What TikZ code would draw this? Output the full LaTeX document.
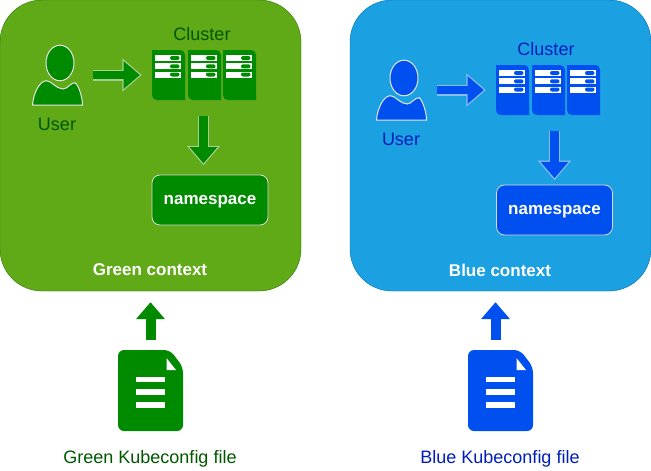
\documentclass[tikz,border=0pt]{standalone}
\usepackage{fontspec}
\setmainfont{Liberation Sans}
\usetikzlibrary{arrows.meta,positioning}
\definecolor{gfill}{HTML}{60A917}
\definecolor{gline}{HTML}{2D7600}
\definecolor{gdark}{HTML}{008A00}
\definecolor{gtext}{HTML}{005700}
\definecolor{gpale}{HTML}{A3D08F}
\definecolor{bfill}{HTML}{1BA1E2}
\definecolor{bline}{HTML}{006EAF}
\definecolor{bdark}{HTML}{0050EF}
\definecolor{btext}{HTML}{001DBC}
\definecolor{bpale}{HTML}{8CBCF8}
\tikzset{
  ctxbox/.style={minimum width=301pt,minimum height=291pt,rounded corners=42pt,inner sep=0pt},
  nsbox/.style={draw=white!85!black,line width=0.8pt,minimum width=116pt,minimum height=50pt,rounded corners=8pt,text=white,inner sep=0pt,text depth=0pt,font=\fontsize{17}{20}\selectfont\bfseries},
  lbl/.style={inner sep=0pt,font=\fontsize{18}{21}\selectfont},
  ctxlbl/.style={inner sep=0pt,text=white,font=\fontsize{17}{20}\selectfont\bfseries},
  arrowg/.style={draw=gdark,line width=8.6pt,-{Triangle[length=16.4pt,width=26.9pt,sep=1.9pt]},preaction={draw=gpale,line width=11pt,{Bar[width=11pt,line width=1.2pt]}-{Triangle[length=19.5pt,width=32pt]}}},
  arrowb/.style={draw=bdark,line width=8.6pt,-{Triangle[length=16.4pt,width=26.9pt,sep=1.9pt]},preaction={draw=bpale,line width=11pt,{Bar[width=11pt,line width=1.2pt]}-{Triangle[length=19.5pt,width=32pt]}}},
  upg/.style={draw=gdark,line width=10pt,-{Triangle[length=17pt,width=28pt]}},
  upb/.style={draw=bdark,line width=10pt,-{Triangle[length=17pt,width=28pt]}},
  person/.pic={
    \node[minimum width=51pt,minimum height=58pt,inner sep=0pt] (-box) at (0,0) {};
    \path[pic actions,draw=white!90!black,line width=1pt] (2.5,-12) ellipse (14pt and 17.8pt);
    \path[pic actions,draw=white!90!black,line width=1pt] (-25,30) .. controls (-24,18) and (-18,6) .. (-11,5.7) .. controls (-6,6) and (-1,14) .. (5.5,14) .. controls (10,14) and (13,7.7) .. (17.5,7.7) .. controls (21,10) and (25,22) .. (25,30) -- cycle;
  },
  rack/.pic={
    \node[minimum width=103pt,minimum height=50pt,inner sep=0pt] (-box) at (0,0) {};
    \foreach \dx in {-51.5,-15.5,19.5} {
      \path[pic actions] (\dx,-25) -- ++(28,0) .. controls +(3,0) and +(0,-3) .. ++(5,5) -- ++(0,45) -- ++(-28,0) .. controls +(-3,0) and +(0,3) .. ++(-5,-5) -- cycle;
      \foreach \dy in {-20,-11.7,-3.5} {
        \fill[white] (\dx+3.2,\dy) rectangle ++(25.3,6);
        \path[pic actions,rounded corners=2pt] (\dx+18,\dy+1) rectangle ++(9.5,4);
      }
    }
  },
  docfile/.pic={
    \node[minimum width=65pt,minimum height=81pt,inner sep=0pt] (-box) at (0,0) {};
    \path[pic actions,rounded corners=6pt] (-32.5,-40.5) -- (19.5,-40.5) -- (32.5,-23.5) -- (32.5,40.5) -- (-32.5,40.5) -- cycle;
    \fill[white] (16,-32.5) -- (25.5,-20.5) -- (16,-20.5) -- cycle;
    \fill[white] (-14.5,-13.5) rectangle (14.5,-8.5);
    \fill[white] (-14.5,-1.5) rectangle (14.5,4.5);
    \fill[white] (-14.5,11.5) rectangle (14.5,17.5);
  }
}
\begin{document}
\begin{tikzpicture}[x=1pt,y=-1pt]
\useasboundingbox (0,0) rectangle (651,471);
\node[ctxbox,draw=gline,fill=gfill] (ctx_g) at (150.5,145.5) {};
\node[ctxbox,draw=bline,fill=bfill] (ctx_b) at (500.5,145.5) {};
\pic[fill=gdark] (user_g) at (57.5,75) {person};
\pic[fill=bdark] (user_b) at (401.5,90) {person};
\pic[fill=gdark] (rack_g) at (203.5,75) {rack};
\pic[fill=bdark] (rack_b) at (547.5,90) {rack};
\node[lbl,text=gtext] (user_g_lbl) at (57,124) {User};
\node[lbl,text=btext] (user_b_lbl) at (401,139) {User};
\node[lbl,text=gtext] (rack_g_lbl) at (202,34) {Cluster};
\node[lbl,text=btext] (rack_b_lbl) at (546,49) {Cluster};
\node[nsbox,fill=gdark] (ns_g) at (210,200) {namespace};
\node[nsbox,fill=bdark] (ns_b) at (554.5,210) {namespace};
\node[ctxlbl] (ctx_g_lbl) at (150,270) {Green context};
\node[ctxlbl] (ctx_b_lbl) at (500,270) {Blue context};
\pic[fill=gdark] (doc_g) at (150.5,390.5) {docfile};
\pic[fill=bdark] (doc_b) at (500.5,390.5) {docfile};
\node[lbl,text=gtext] (doc_g_lbl) at (150,459) {Green Kubeconfig file};
\node[lbl,text=btext] (doc_b_lbl) at (500,459) {Blue Kubeconfig file};
\draw[arrowg,shorten <=9.5pt,shorten >=10pt] (user_g-box.east) -- (rack_g-box.west);
\draw[arrowb,shorten <=9.5pt,shorten >=10pt] (user_b-box.east) -- (rack_b-box.west);
\draw[arrowg,shorten <=15.7pt,shorten >=9.3pt] (rack_g-box.south) -- (rack_g-box.south |- ns_g.north);
\draw[arrowb,shorten <=15.7pt,shorten >=4.5pt] (rack_b-box.south -| ns_b.north) -- (ns_b.north);
\draw[upg,shorten <=10pt,shorten >=11pt] (doc_g-box.north) -- (doc_g-box.north |- ctx_g.south);
\draw[upb,shorten <=10pt,shorten >=11pt] ([xshift=-5pt]doc_b-box.north) -- ([xshift=-5pt]doc_b-box.north |- ctx_b.south);
\end{tikzpicture}
\end{document}
